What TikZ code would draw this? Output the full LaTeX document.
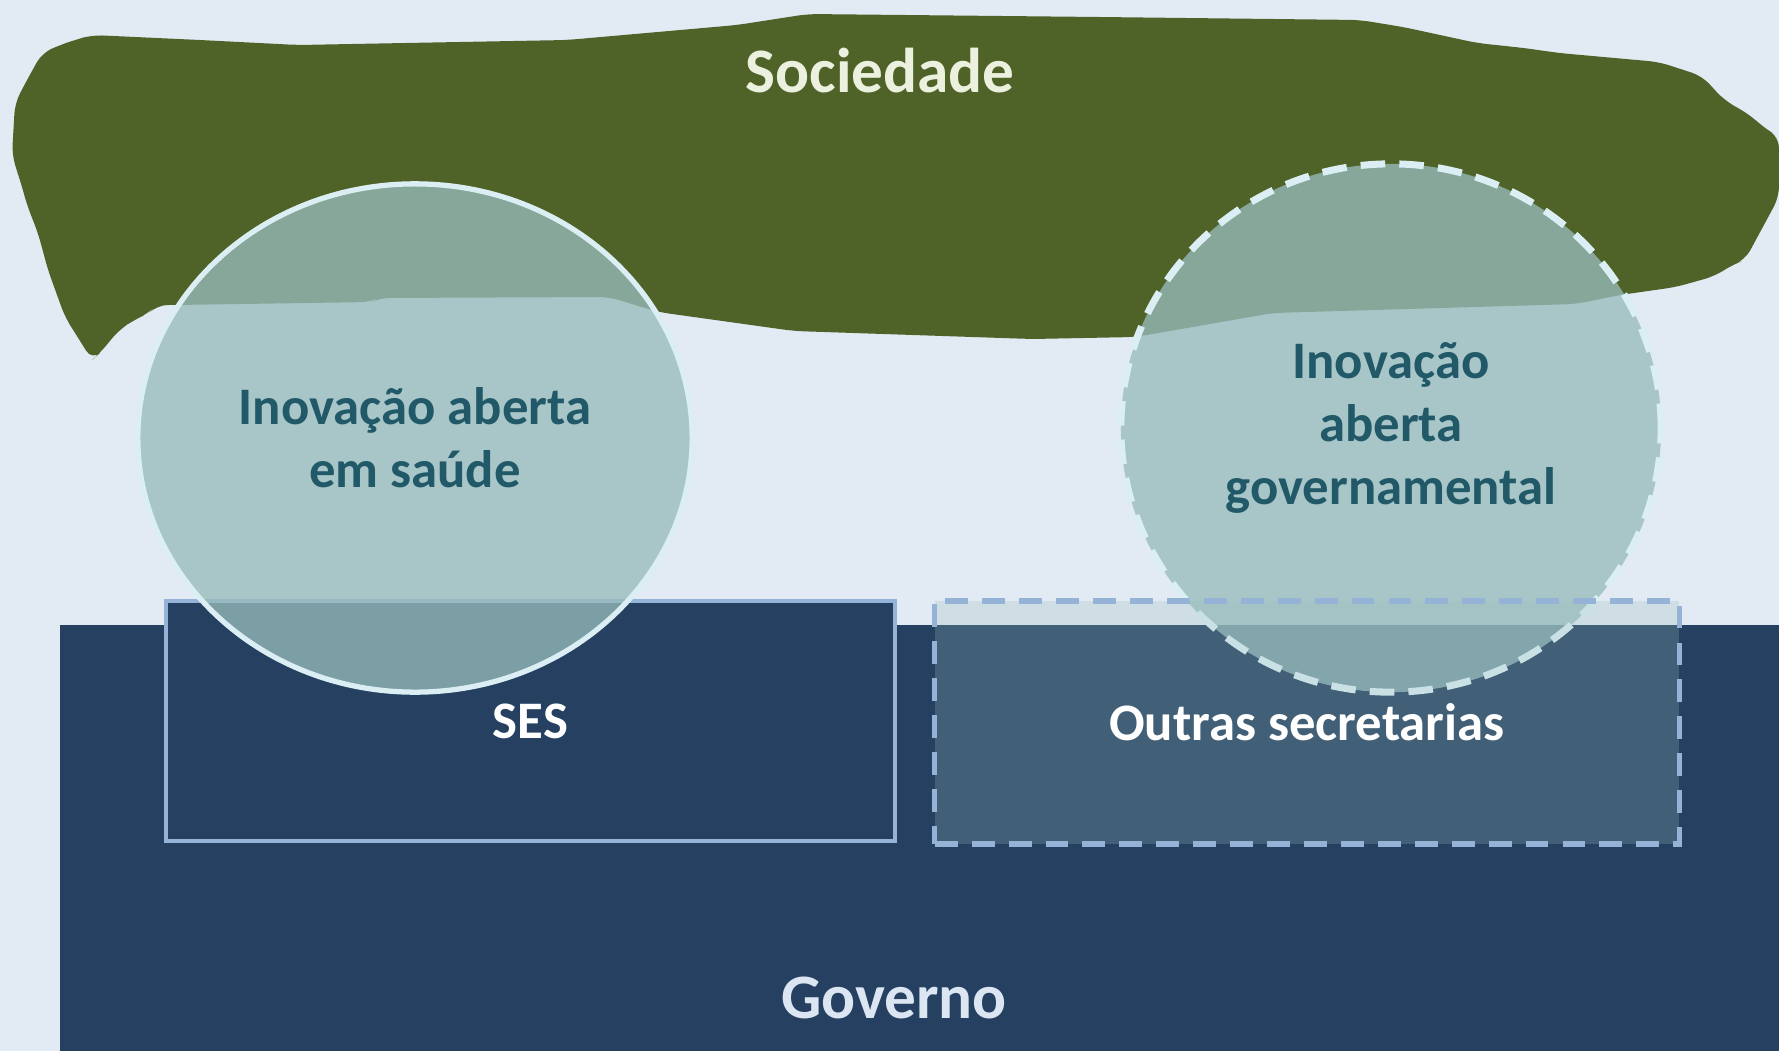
\documentclass[tikz,border=0pt]{standalone}
\usepackage{fontspec}
\setmainfont{Carlito}
\usetikzlibrary{shapes.geometric}
\definecolor{fundo}{HTML}{E2EAF4}
\definecolor{verde}{HTML}{4F6228}
\definecolor{marinho}{HTML}{254061}
\definecolor{borda}{HTML}{95B3D7}
\definecolor{agua}{RGB}{151,188,188}
\definecolor{anel}{HTML}{DAEEF3}
\definecolor{petroleo}{HTML}{215968}
\definecolor{claro}{HTML}{EBF1DE}
\definecolor{nevoa}{HTML}{DCE6F2}
\begin{document}
\begin{tikzpicture}[x=0.01cm, y=-0.01cm,
    font=\bfseries\fontsize{15}{18}\selectfont,
    bolha/.style={ellipse, inner sep=0pt, fill=agua, fill opacity=.77,
      text opacity=1, draw=anel, draw opacity=1, line width=1.5pt,
      text=petroleo, align=center},
    caixa/.style={rectangle, inner sep=0pt, draw=borda, line width=1.2pt,
      text=white}]
      \useasboundingbox (0, 0) rectangle (1779, 1051);
      \fill [fundo] (0, 0) rectangle (1779, 1051);
      % sociedade
      \fill [verde, rounded corners=3pt]
            (92, 35) -- (200, 40) -- (298, 45) -- (567, 40) -- (737, 25)
            -- (808, 14) -- (1100, 17) -- (1360, 20) -- (1403, 27) -- (1477, 43)
            -- (1524, 48) -- (1559, 53) -- (1659, 62) -- (1702, 76) -- (1724, 100)
            -- (1750, 115) -- (1763, 127) -- (1779, 137) -- (1779, 197)
            -- (1745, 260) -- (1732, 265) -- (1715, 276) -- (1676, 287)
            -- (1620, 295) -- (1576, 304) -- (1273, 313) -- (1187, 328)
            -- (1135, 337) -- (1032, 339) -- (794, 331) -- (658, 312) -- (609, 297)
            -- (379, 298) -- (371, 302) -- (176, 305) -- (157, 305) -- (149, 313)
            -- (134, 320) -- (119, 330) -- (100, 353) -- (92, 360) -- (65, 317)
            -- (48, 270) -- (38, 233) -- (27, 205) -- (23, 190) -- (12, 155)
            -- (15, 103) -- (27, 80) -- (42, 53) -- (60, 45) -- (75, 40) -- cycle;
      \node (sociedade) at (880, 71) [text=claro, font=\bfseries\fontsize{18}{22}\selectfont] {Sociedade};
      % governo
      \fill [marinho] (60, 625) rectangle (1779, 1051);
      \node (governo) at (894, 998) [text=nevoa, font=\bfseries\fontsize{18}{22}\selectfont] {Governo};
      \node (ses) at (530.5, 721) [caixa, fill=marinho, minimum width=7.29cm, minimum height=2.40cm] {SES};
      % bolhas
      \node (saude) at (415, 438) [bolha, minimum width=5.54cm, minimum height=5.08cm]
            {Inovação aberta\\em saúde};
      \node (gov) at (1391, 428) [bolha, line width=2pt, dash pattern=on 7pt off 4pt,
            minimum width=5.40cm, minimum height=5.28cm]
            {Inovação\\aberta\\governamental};
      \node (outras) at (1307, 722.5) [caixa, fill=agua, fill opacity=.25, text opacity=1,
            draw opacity=1, line width=1.5pt, dash pattern=on 6.5pt off 4pt,
            minimum width=7.44cm, minimum height=2.43cm] {Outras secretarias};
\end{tikzpicture}
\end{document}
